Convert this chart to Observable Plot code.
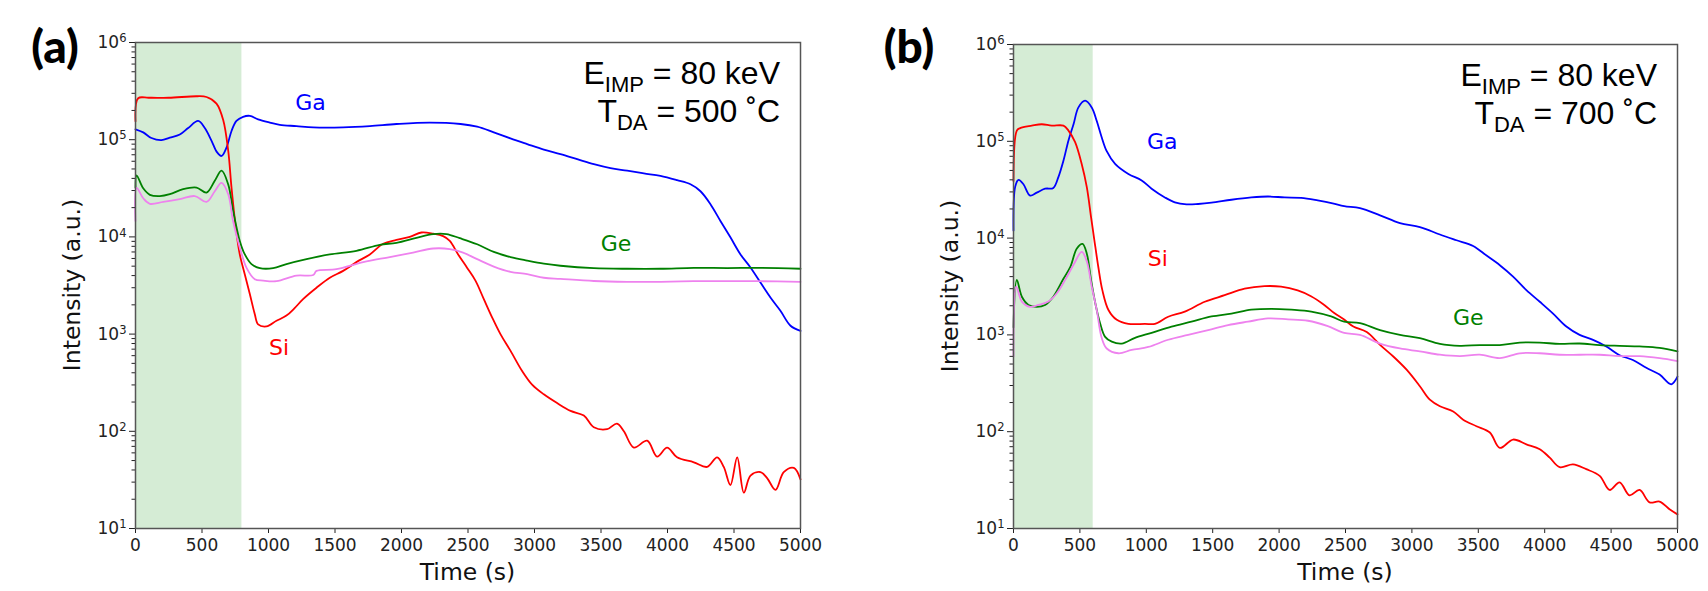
<!DOCTYPE html>
<html><head><meta charset="utf-8">
<script src="https://cdn.jsdelivr.net/npm/d3@7"></script>
<script src="https://cdn.jsdelivr.net/npm/@observablehq/plot@0.6"></script>
<style>
body{margin:0;background:#fff;}
#wrap{position:relative;width:1708px;height:591px;overflow:hidden;background:#fff;}
#wrap svg{position:absolute;top:0;}
</style></head><body><div id="wrap"></div>
<script>
// ---------- data (time in s, intensity in a.u.) ----------
const xTicks = [0,500,1000,1500,2000,2500,3000,3500,4000,4500,5000];
const yMajor = [1e1,1e2,1e3,1e4,1e5,1e6];

// Panel (a): E_IMP = 80 keV, T_DA = 500 C
const shadeA = [0, 800];
const gaA = [[0,1.28e5],[58,1.19e5],[120,1.04e5],[195,9.9e4],[258,1.05e5],[333,1.13e5],[396,1.32e5],[471,1.56e5],[521,1.32e5],[571,9.8e4],[614,7.4e4],[647,6.8e4],[684,8.3e4],[722,1.23e5],[759,1.56e5],[809,1.72e5],[860,1.76e5],[922,1.62e5],[1010,1.5e5],[1085,1.42e5],[1210,1.38e5],[1336,1.34e5],[1561,1.34e5],[1762,1.38e5],[1962,1.45e5],[2213,1.5e5],[2444,1.45e5],[2569,1.36e5],[2694,1.19e5],[2819,1.03e5],[2945,9.0e4],[3070,7.9e4],[3195,7.1e4],[3321,6.3e4],[3446,5.6e4],[3571,5.1e4],[3697,4.8e4],[3822,4.5e4],[3947,4.25e4],[4072,3.84e4],[4173,3.48e4],[4248,2.95e4],[4323,2.17e4],[4398,1.46e4],[4473,9.9e3],[4549,6.6e3],[4624,4.84e3],[4699,3.39e3],[4774,2.38e3],[4849,1.74e3],[4925,1.22e3],[5000,1.08e3]];
const siA = [[0,1.55e5],[20,2.67e5],[100,2.7e5],[250,2.7e5],[460,2.8e5],[534,2.75e5],[609,2.35e5],[659,1.6e5],[697,7.7e4],[722,3.2e4],[754,1.25e4],[784,6.6e3],[822,4.1e3],[860,2.57e3],[897,1.6e3],[922,1.26e3],[985,1.2e3],[1060,1.37e3],[1135,1.55e3],[1198,1.86e3],[1260,2.29e3],[1361,3.0e3],[1461,3.8e3],[1561,4.47e3],[1661,5.5e3],[1762,6.6e3],[1862,8.5e3],[1962,9.3e3],[2062,1.0e4],[2150,1.11e4],[2238,1.08e4],[2313,1.02e4],[2363,9.1e3],[2426,6.6e3],[2494,4.8e3],[2556,3.55e3],[2619,2.29e3],[2682,1.48e3],[2744,1.0e3],[2819,676],[2907,417],[2982,302],[3070,240],[3170,195],[3271,162],[3371,145],[3446,110],[3546,105],[3620,120],[3672,100],[3747,68],[3847,80],[3922,55],[3997,68],[4072,54],[4198,48],[4298,43],[4373,54],[4423,43],[4473,28],[4524,54],[4574,23.4],[4624,35],[4699,38],[4749,33],[4812,25],[4874,38],[4950,42],[5000,32]];
const geA = [[0,3.2e4],[8,4.3e4],[58,3.16e4],[108,2.71e4],[183,2.63e4],[258,2.75e4],[358,3.1e4],[459,3.22e4],[534,2.86e4],[596,3.78e4],[647,4.8e4],[697,3.47e4],[734,1.86e4],[784,9.1e3],[822,6.6e3],[872,5.25e3],[935,4.77e3],[1035,4.77e3],[1135,5.25e3],[1286,5.9e3],[1461,6.6e3],[1661,7.2e3],[1837,8.3e3],[1962,8.7e3],[2112,9.8e3],[2238,1.07e4],[2338,1.07e4],[2438,9.7e3],[2569,8.4e3],[2694,7.0e3],[2819,6.2e3],[2945,5.7e3],[3070,5.3e3],[3195,5.05e3],[3446,4.77e3],[3697,4.7e3],[3947,4.7e3],[4198,4.8e3],[4449,4.78e3],[4699,4.8e3],[5000,4.7e3]];
const viA = [[0,1.46e4],[8,3.2e4],[58,2.5e4],[108,2.19e4],[208,2.29e4],[333,2.45e4],[446,2.63e4],[534,2.29e4],[596,2.95e4],[647,3.6e4],[697,2.75e4],[734,1.45e4],[784,7.8e3],[835,4.8e3],[897,3.67e3],[960,3.55e3],[1060,3.5e3],[1210,4.0e3],[1336,4.05e3],[1361,4.47e3],[1511,4.65e3],[1712,5.5e3],[1912,6.2e3],[2087,6.9e3],[2238,7.6e3],[2363,7.5e3],[2463,6.9e3],[2569,5.9e3],[2694,4.95e3],[2819,4.37e3],[2945,4.14e3],[3070,3.8e3],[3195,3.7e3],[3446,3.52e3],[3697,3.45e3],[3947,3.45e3],[4198,3.5e3],[4449,3.5e3],[4699,3.5e3],[5000,3.45e3]];
const labelsA = [{t:1316, v:2.39e5, name:"Ga"}, {t:1079, v:721, name:"Si"}, {t:3613, v:8470, name:"Ge"}];

// Panel (b): E_IMP = 80 keV, T_DA = 700 C
const shadeB = [0, 600];
const gaB = [[0,1.2e4],[13,3.4e4],[38,4.0e4],[75,3.6e4],[125,2.75e4],[175,2.95e4],[238,3.24e4],[300,3.3e4],[338,4.27e4],[376,6.3e4],[414,1.02e5],[452,1.5e5],[489,2.24e5],[539,2.63e5],[589,2.24e5],[627,1.62e5],[664,1.1e5],[702,7.9e4],[765,5.85e4],[865,4.6e4],[965,3.94e4],[1040,3.24e4],[1140,2.63e4],[1215,2.34e4],[1303,2.23e4],[1390,2.25e4],[1491,2.32e4],[1641,2.49e4],[1791,2.63e4],[1916,2.69e4],[2041,2.63e4],[2166,2.6e4],[2291,2.45e4],[2403,2.29e4],[2490,2.14e4],[2609,2.04e4],[2760,1.72e4],[2910,1.43e4],[3060,1.3e4],[3211,1.09e4],[3336,9.5e3],[3461,8.3e3],[3562,6.6e3],[3662,5.25e3],[3762,4.0e3],[3862,2.9e3],[3963,2.2e3],[4063,1.66e3],[4163,1.22e3],[4263,1.0e3],[4364,890],[4464,760],[4564,617],[4664,550],[4765,457],[4865,389],[4953,309],[5000,370]];
const siB = [[0,3.9e4],[25,1.29e5],[50,1.37e5],[138,1.45e5],[213,1.5e5],[288,1.45e5],[376,1.45e5],[414,1.29e5],[464,9.8e4],[514,5.8e4],[552,3.36e4],[584,1.65e4],[609,9.5e3],[639,5.0e3],[669,2.9e3],[715,1.81e3],[778,1.43e3],[865,1.3e3],[990,1.3e3],[1065,1.3e3],[1165,1.54e3],[1290,1.74e3],[1440,2.2e3],[1590,2.57e3],[1740,3.0e3],[1890,3.19e3],[2015,3.15e3],[2140,2.88e3],[2240,2.51e3],[2340,2.04e3],[2415,1.68e3],[2490,1.44e3],[2559,1.22e3],[2660,1.07e3],[2760,790],[2860,598],[2960,437],[3060,295],[3135,214],[3211,183],[3311,162],[3386,133],[3486,114],[3587,98],[3662,68],[3762,83],[3862,74],[3963,66],[4038,54],[4113,43],[4213,46],[4313,41],[4414,35],[4489,25],[4564,30],[4639,22],[4714,25],[4790,18.6],[4865,19],[4940,15.8],[5000,14]];
const geB = [[0,1.2e3],[25,3.7e3],[63,2.48e3],[113,2.04e3],[175,1.95e3],[238,2.04e3],[300,2.48e3],[376,3.8e3],[427,5.0e3],[477,7.8e3],[520,8.7e3],[552,6.9e3],[584,3.7e3],[620,2.0e3],[652,1.32e3],[690,955],[740,851],[815,813],[915,933],[1040,1.05e3],[1190,1.22e3],[1340,1.37e3],[1491,1.55e3],[1641,1.66e3],[1791,1.82e3],[1942,1.86e3],[2092,1.82e3],[2242,1.74e3],[2392,1.55e3],[2490,1.37e3],[2609,1.32e3],[2760,1.12e3],[2910,1.0e3],[3060,925],[3211,807],[3361,771],[3511,785],[3662,785],[3812,832],[3963,832],[4113,807],[4263,815],[4414,785],[4564,771],[4714,760],[4865,735],[5000,676]];
const viB = [[0,600],[20,3.16e3],[63,2.21e3],[125,1.95e3],[188,2.04e3],[263,2.21e3],[326,2.69e3],[389,3.7e3],[452,5.3e3],[514,7.2e3],[552,5.75e3],[589,3.16e3],[627,1.8e3],[664,933],[702,724],[790,646],[890,700],[1015,750],[1165,891],[1315,1.0e3],[1466,1.12e3],[1616,1.26e3],[1766,1.37e3],[1916,1.48e3],[2067,1.45e3],[2217,1.4e3],[2367,1.23e3],[2490,1.05e3],[2609,1.0e3],[2760,813],[2910,724],[3060,676],[3211,624],[3361,603],[3511,624],[3662,575],[3812,646],[3963,646],[4113,624],[4263,624],[4414,624],[4564,603],[4714,603],[4865,575],[5000,537]];
const labelsB = [{t:1120, v:9.9e4, name:"Ga"}, {t:1086, v:6030, name:"Si"}, {t:3425, v:1490, name:"Ge"}];

const seriesColors = {Ga:"blue", Si:"red", Ge:"green", Ge2:"violet"};

// ---------- drawing ----------
const yMinor = d3.range(1, 6).flatMap(k => d3.range(2, 10).map(m => m * 10 ** k));

function makePanel(cfg) {
  const W = 854, H = 591;
  const series = [["Ga", cfg.ga], ["Si", cfg.si], ["Ge", cfg.ge], ["Ge2", cfg.vi]];
  const lines = series.map(([k, arr]) => Plot.line(arr, {x: d => d[0], y: d => d[1], stroke: seriesColors[k], strokeWidth: 1.8, curve: "catmull-rom"}));
  const svg = Plot.plot({
    width: W, height: H,
    marginLeft: cfg.ml, marginRight: cfg.mr, marginTop: cfg.mt, marginBottom: cfg.mb,
    style: {fontFamily: "DejaVu Sans, sans-serif", fontSize: "17px", color: "#222", background: "white", overflow: "visible"},
    x: {domain: [0, 5000]},
    y: {type: "log", domain: [10, 1e6]},
    marks: [
      Plot.rect([cfg.shade], {x1: d => d[0], x2: d => d[1], y1: 10, y2: 1e6, fill: "#d5ecd5"}),
      ...lines,
      Plot.text(cfg.labels, {x: "t", y: "v", text: "name", fill: d => seriesColors[d.name], fontSize: 22, textAnchor: "middle"}),
      Plot.axisX({ticks: xTicks, tickSize: 5, tickPadding: 5, fontSize: 17, tickFormat: d => String(d), label: null}),
      Plot.axisY({ticks: yMinor, tickSize: 3.5, tickFormat: () => "", label: null}),
      Plot.axisY({ticks: yMajor, tickSize: 6, tickPadding: 3, fontSize: 17, tickFormat: d => String(Math.round(Math.log10(d))), label: null}),
      Plot.frame({stroke: "#555", strokeWidth: 1.5})
    ]
  });
  svg.style.left = cfg.left + "px";
  const s = d3.select(svg);
  // superscript exponents on the log axis labels
  s.selectAll('g[aria-label="y-axis tick label"] text').each(function () {
    const e = this.textContent;
    if (!e) return;
    const t = d3.select(this);
    t.text(null);
    t.append("tspan").text("10");
    t.append("tspan").attr("dy", "-0.5em").attr("font-size", "0.68em").text(e);
  });
  const fl = cfg.ml, fr = W - cfg.mr, ft = cfg.mt, fb = H - cfg.mb;
  // axis titles
  s.append("text").attr("x", (fl + fr) / 2).attr("y", fb + 52)
    .attr("text-anchor", "middle").attr("font-family", "DejaVu Sans, sans-serif")
    .attr("font-size", 23.5).attr("fill", "#111").text("Time (s)");
  s.append("text").attr("transform", `translate(${fl - 55},${(ft + fb) / 2}) rotate(-90)`)
    .attr("text-anchor", "middle").attr("font-family", "DejaVu Sans, sans-serif")
    .attr("font-size", 23.5).attr("fill", "#111").text("Intensity (a.u.)");
  // panel tag
  s.append("text").attr("x", 55).attr("y", 63).attr("text-anchor", "middle")
    .attr("font-family", "Lato, 'Open Sans', sans-serif").attr("font-weight", 900)
    .attr("font-size", 46).attr("fill", "#000").text(cfg.tag);
  // annotation with subscripts
  const ann = s.append("g").attr("font-family", "'Liberation Sans', Arial, sans-serif")
    .attr("font-size", 32).attr("text-anchor", "end").attr("fill", "#000");
  const l1 = ann.append("text").attr("x", fr - 20).attr("y", ft + 42);
  l1.append("tspan").text("E");
  l1.append("tspan").attr("font-size", 22).attr("dy", 8).text("IMP");
  l1.append("tspan").attr("dy", -8).text(" = 80 keV");
  const l2 = ann.append("text").attr("x", fr - 20).attr("y", ft + 80);
  l2.append("tspan").text("T");
  l2.append("tspan").attr("font-size", 22).attr("dy", 8).text("DA");
  l2.append("tspan").attr("dy", -8).text(" = " + cfg.temp + " \u02DAC");
  document.getElementById("wrap").appendChild(svg);
}

makePanel({left: 0, ml: 135, mr: 54, mt: 42, mb: 63, shade: shadeA, ga: gaA, si: siA, ge: geA, vi: viA, labels: labelsA, tag: "(a)", temp: "500"});
makePanel({left: 854, ml: 159, mr: 31, mt: 44, mb: 63, shade: shadeB, ga: gaB, si: siB, ge: geB, vi: viB, labels: labelsB, tag: "(b)", temp: "700"});
</script></body></html>
